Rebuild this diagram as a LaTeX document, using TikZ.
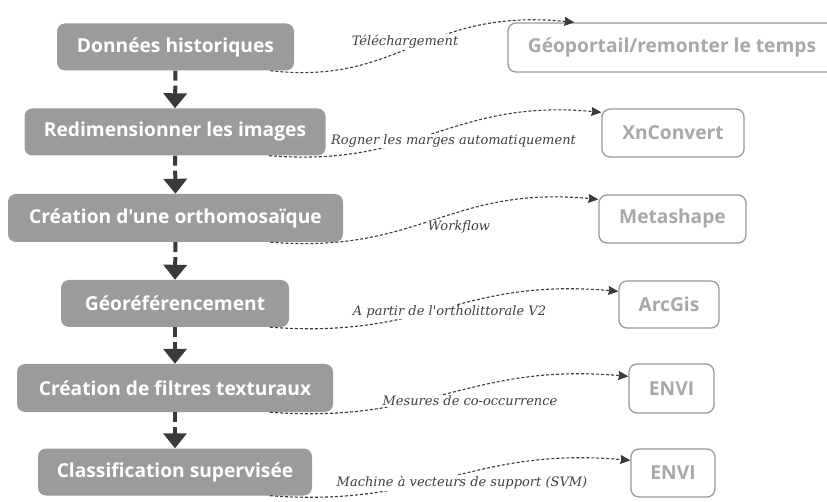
\documentclass[tikz,border=0pt]{standalone}
\usepackage{fontspec}
\setmainfont{Open Sans}[Ligatures=TeXOff]
\newfontfamily\labelfont{DejaVu Serif}[Ligatures=TeXOff]
\usetikzlibrary{arrows.meta}
\definecolor{boxgray}{HTML}{9B9B9B}
\definecolor{toolgray}{HTML}{A8A8A8}
\definecolor{bordergray}{HTML}{9A9A9A}
\definecolor{arrowdark}{HTML}{3A3A3A}
\definecolor{labelcol}{HTML}{404040}
\tikzset{
  stepbox/.style={draw=none, fill=boxgray, rounded corners=8pt, text=white,
    font=\fontsize{19.2}{22}\selectfont\bfseries, inner sep=0pt, align=center},
  toolbox/.style={draw=bordergray, line width=1.3pt, fill=white, rounded corners=8pt, text=toolgray,
    font=\fontsize{19.2}{22}\selectfont\bfseries, inner sep=0pt, align=center},
  flow/.style={draw=arrowdark, line width=4pt, dash pattern=on 10pt off 5pt,
    -{Triangle[width=23pt,length=15pt]}},
  link/.style={draw=arrowdark, line width=1.1pt, dash pattern=on 3pt off 2pt,
    -{Stealth[width=9pt,length=10pt,inset=1pt]}},
  lbl/.style={fill=white, inner sep=1pt, text=labelcol,
    font=\labelfont\itshape\fontsize{13}{15}\selectfont}
}
\begin{document}
\begin{tikzpicture}[x=1pt,y=-1pt]
\useasboundingbox (0,0) rectangle (827,502);
% left step boxes
\node[stepbox, minimum width=237pt, minimum height=47pt] (l1) at (175.5,47) {Données historiques};
\node[stepbox, minimum width=301pt, minimum height=47pt] (l2) at (175,132) {Redimensionner les images};
\node[stepbox, minimum width=335pt, minimum height=48pt] (l3) at (175.5,218) {Création d'une orthomosaïque};
\node[stepbox, minimum width=228pt, minimum height=47pt] (l4) at (175,303.5) {Géoréférencement};
\node[stepbox, minimum width=316pt, minimum height=48pt] (l5) at (175,388) {Création de filtres texturaux};
\node[stepbox, minimum width=274pt, minimum height=47pt] (l6) at (175,472) {Classification supervisée};
% right tool boxes
\node[toolbox, minimum width=328pt, minimum height=49pt] (r1) at (672,47.5) {Géoportail/remonter le temps};
\node[toolbox, minimum width=142pt, minimum height=48pt] (r2) at (673,133) {XnConvert};
\node[toolbox, minimum width=147pt, minimum height=48pt] (r3) at (672.5,219) {Metashape};
\node[toolbox, minimum width=100pt, minimum height=47pt] (r4) at (669,304.5) {ArcGis};
\node[toolbox, minimum width=85pt, minimum height=49pt] (r5) at (671.5,388.5) {ENVI};
\node[toolbox, minimum width=84pt, minimum height=48pt] (r6) at (673,473) {ENVI};
% flow arrows
\draw[flow] (l1.south) -- (l2.north);
\draw[flow] (l2.south) -- (l3.north);
\draw[flow] (l3.south) -- (l4.north);
\draw[flow] (l4.south) -- (l5.north);
\draw[flow] (l5.south) -- (l6.north);
% dashed links
\draw[link] ([xshift=95pt]l1.south) .. controls +(130,15) and +(-150,-15) .. ([xshift=67pt]r1.north west);
\draw[link] ([xshift=94pt]l2.south) .. controls +(150,12) and +(-150,-14) .. ([yshift=-4pt]r2.north west);
\draw[link] ([xshift=95pt]l3.south) .. controls +(150,12) and +(-150,-14) .. ([yshift=-5pt]r3.north west);
\draw[link] ([xshift=95pt]l4.south) .. controls +(160,12) and +(-160,-14) .. ([yshift=-11pt]r4.north west);
\draw[link] ([xshift=95pt]l5.south) .. controls +(160,12) and +(-160,-14) .. ([yshift=-13pt]r5.north west);
\draw[link] ([xshift=95pt]l6.south) .. controls +(160,12) and +(-160,-14) .. ([yshift=-12pt]r6.north west);
% labels
\node[lbl] (t1) at (405,42) {Téléchargement};
\node[lbl] (t2) at (453.5,141) {Rogner les marges automatiquement};
\node[lbl] (t3) at (459,227) {Workflow};
\node[lbl] (t4) at (449.5,312) {A partir de l'ortholittorale V2};
\node[lbl] (t5) at (470,401) {Mesures de co-occurrence};
\node[lbl] (t6) at (462,483) {Machine à vecteurs de support (SVM)};
\end{tikzpicture}
\end{document}
